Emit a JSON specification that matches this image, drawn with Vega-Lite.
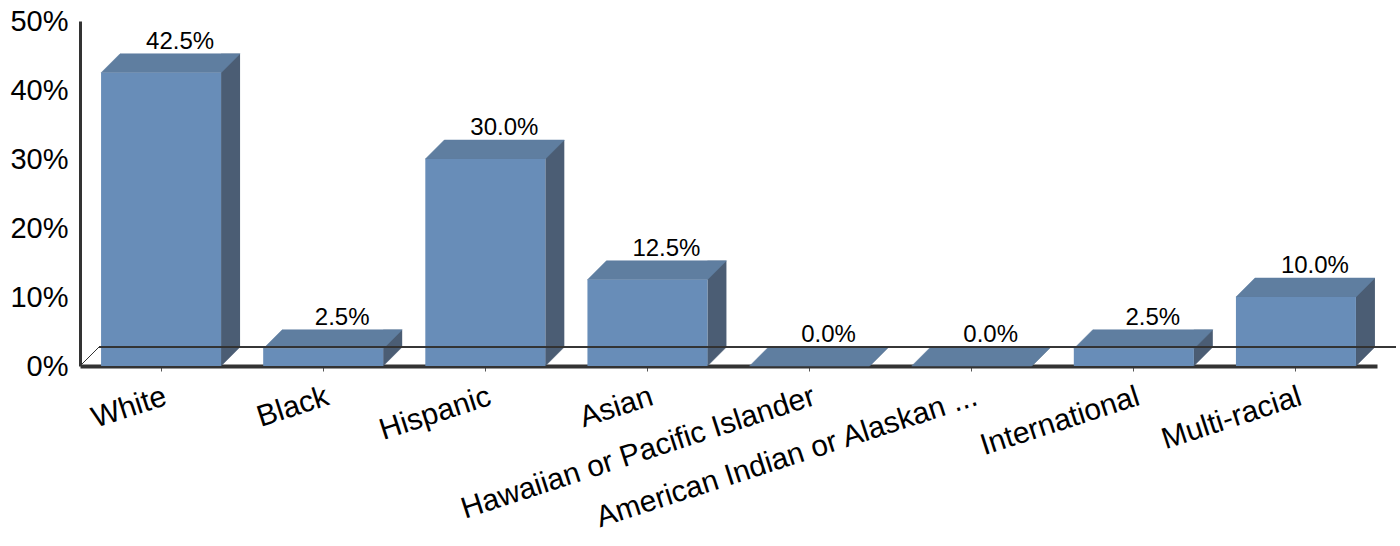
{
  "$schema": "https://vega.github.io/schema/vega-lite/v6.json",
  "width": 1297,
  "height": 345,
  "autosize": {"type": "none"},
  "padding": {"left": 80, "top": 21, "right": 23, "bottom": 180},
  "config": {"view": {"stroke": null}, "font": "Liberation Sans"},
  "data": {
    "values": [
      {"group": "White", "pct": 0.425},
      {"group": "Black", "pct": 0.025},
      {"group": "Hispanic", "pct": 0.30},
      {"group": "Asian", "pct": 0.125},
      {"group": "Hawaiian or Pacific Islander", "pct": 0.0},
      {"group": "American Indian or Alaskan ...", "pct": 0.0},
      {"group": "International", "pct": 0.025},
      {"group": "Multi-racial", "pct": 0.10}
    ]
  },
  "layer": [
    {
      "mark": {"type": "bar", "width": 19, "xOffset": 69.5, "yOffset": -19, "y2Offset": -19, "color": "#4B5D74"},
      "encoding": {
        "x": {"field": "group", "type": "nominal", "sort": null,
          "scale": {"paddingInner": 0, "paddingOuter": 0},
          "axis": {"title": null, "labelAngle": -18, "labelAlign": "right", "labelBaseline": "top",
            "labelFontSize": 30, "labelColor": "#000", "labelPadding": 10, "labelLimit": 1000,
            "tickSize": 5, "tickColor": "#555", "domainColor": "#333", "domainWidth": 4}},
        "y": {"field": "pct", "type": "quantitative", "scale": {"domain": [0, 0.5]},
          "axis": {"values": [0, 0.1, 0.2, 0.3, 0.4, 0.5], "format": ".0%", "title": null, "grid": false,
            "ticks": false, "labelFontSize": 29, "labelColor": "#000", "labelPadding": 12,
            "domainColor": "#333", "domainWidth": 3}},
        "y2": {"datum": 0}
      }
    },
    {
      "mark": {"type": "point", "shape": "M60,0L60,-19L79,-19Z", "size": 4, "filled": true, "opacity": 1, "color": "#4B5D74", "stroke": "#4B5D74", "strokeWidth": 0.5},
      "encoding": {
        "x": {"field": "group", "type": "nominal", "sort": null},
        "y": {"datum": 0}
      }
    },
    {
      "mark": {"type": "point", "shape": "M-60,0L60,0L79,-19L-41,-19Z", "size": 4, "filled": true, "opacity": 1, "color": "#5F7EA0", "stroke": "#5F7EA0", "strokeWidth": 0.5},
      "encoding": {
        "x": {"field": "group", "type": "nominal", "sort": null},
        "y": {"field": "pct", "type": "quantitative"}
      }
    },
    {
      "mark": {"type": "bar", "width": 120, "color": "#688DB8"},
      "encoding": {
        "x": {"field": "group", "type": "nominal", "sort": null},
        "y": {"field": "pct", "type": "quantitative"},
        "y2": {"datum": 0}
      }
    },
    {
      "mark": {"type": "rule", "xOffset": 19, "x2Offset": 19, "yOffset": -19, "y2Offset": -19, "color": "#333", "strokeWidth": 1, "opacity": 0.75},
      "encoding": {
        "x": {"value": 0},
        "x2": {"value": {"expr": "width"}},
        "y": {"datum": 0},
        "y2": {"datum": 0}
      }
    },
    {
      "mark": {"type": "rule", "x2Offset": 19, "y2Offset": -19, "color": "#333", "strokeWidth": 1},
      "encoding": {
        "x": {"value": 0},
        "x2": {"value": 0},
        "y": {"datum": 0},
        "y2": {"datum": 0}
      }
    },
    {
      "mark": {"type": "text", "xOffset": 19, "yOffset": -24, "baseline": "alphabetic", "fontSize": 24, "color": "#000"},
      "encoding": {
        "x": {"field": "group", "type": "nominal", "sort": null},
        "y": {"field": "pct", "type": "quantitative"},
        "text": {"field": "pct", "type": "quantitative", "format": ".1%"}
      }
    }
  ]
}
